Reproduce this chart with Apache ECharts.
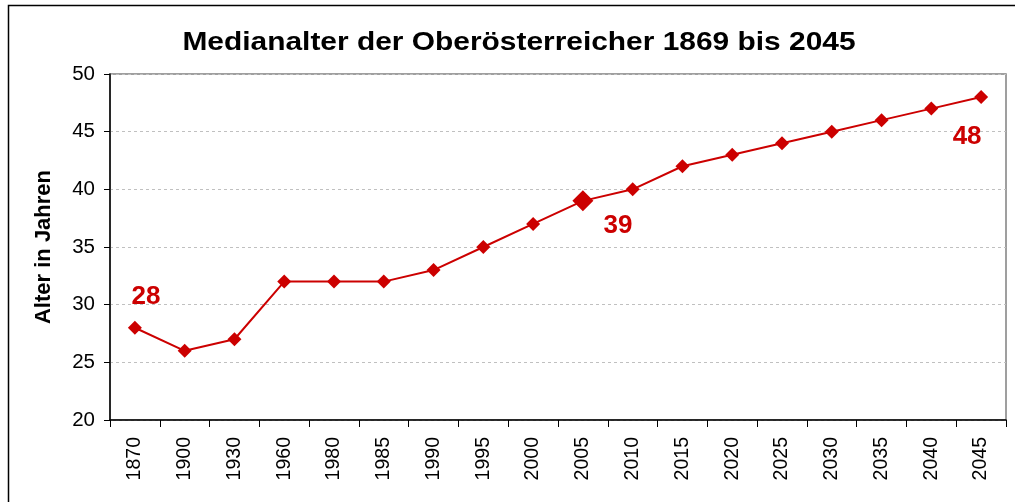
<!DOCTYPE html>
<html><head><meta charset="utf-8">
<script src="https://cdn.jsdelivr.net/npm/echarts@6/dist/echarts.min.js"></script>
<style>html,body{margin:0;padding:0;background:#fff}#c{width:1015px;height:502px}</style>
</head><body><div id="c"></div>
<script>
const title = 'Medianalter der Oberösterreicher 1869 bis 2045';
const categories = ['1870','1900','1930','1960','1980','1985','1990','1995','2000','2005','2010','2015','2020','2025','2030','2035','2040','2045'];
const values = [28,26,27,32,32,32,33,35,37,39,40,42,43,44,45,46,47,48];
const yTicks = [20,25,30,35,40,45,50];
const labelled = {0:'top', 9:'bottom', 17:'bottom'};
const red = '#CC0000';
const data = values.map((v,i)=>{
  const d = {value:v};
  if(i===9){ d.symbolSize = 21; }
  if(labelled[i]!==undefined){
    const off = i===0?[11,-6]:(i===9?[35,-4]:[-14,15]);
    d.label = {show:true, position:labelled[i], offset:off, formatter:String(v), color:red, fontSize:26, fontWeight:'bold', fontFamily:'Liberation Sans'};
  }
  return d;
});
const chart = echarts.init(document.getElementById('c'));
chart.setOption({
  animation:false,
  graphic:[
    {type:'rect', shape:{x:8.5,y:5.5,width:1010,height:510}, style:{fill:null, stroke:'#000', lineWidth:1.5}, silent:true},
    {type:'text', x:519, y:42.5, scaleX:1.15, style:{text:title, fill:'#000', font:'bold 26px "Liberation Sans"', align:'center', verticalAlign:'middle'}, silent:true}
  ],
  grid:{left:110, right:9, top:74, bottom:82, show:true, borderColor:'#808080', borderWidth:1.5},
  xAxis:{type:'category', data:categories, boundaryGap:true,
    axisLine:{lineStyle:{color:'#000', width:1.5}},
    axisTick:{show:true, length:7, lineStyle:{color:'#000'}},
    axisLabel:{rotate:90, fontFamily:'Liberation Sans', fontSize:19.5, color:'#000', margin:17, interval:0}},
  yAxis:{type:'value', min:yTicks[0], max:yTicks[yTicks.length-1], interval:5,
    name:'Alter in Jahren', nameLocation:'middle', nameGap:55, nameRotate:90,
    nameTextStyle:{fontFamily:'Liberation Sans', fontWeight:'bold', fontSize:22, color:'#000'},
    axisLine:{show:true, lineStyle:{color:'#000', width:1.5}},
    axisTick:{show:true, length:6, lineStyle:{color:'#000'}},
    axisLabel:{fontFamily:'Liberation Sans', fontSize:20.5, color:'#000', margin:15},
    splitLine:{show:true, lineStyle:{color:'#c0c0c0', type:[3,3], width:1}}},
  series:[{type:'line', data:data, symbol:'diamond', symbolSize:14,
    lineStyle:{color:red, width:2}, itemStyle:{color:red}}]
});
</script></body></html>
